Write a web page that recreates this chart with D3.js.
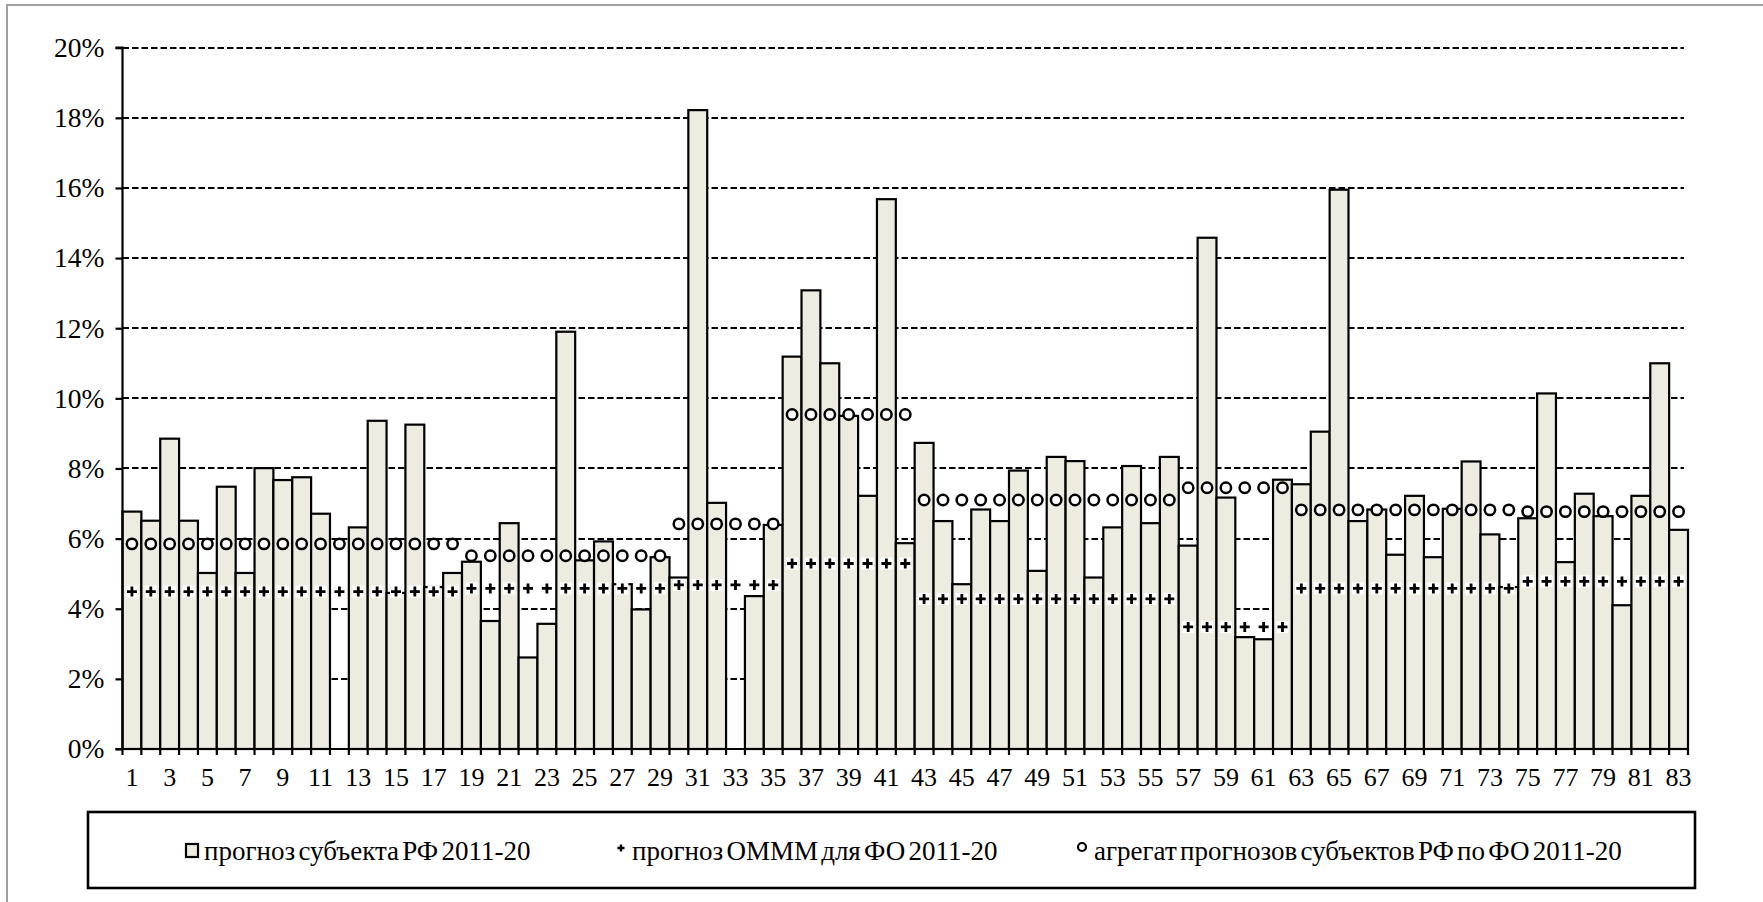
<!DOCTYPE html>
<html>
<head>
<meta charset="utf-8">
<script src="https://cdn.jsdelivr.net/npm/d3@7"></script>
<style>
  html, body { margin: 0; padding: 0; background: #fff; }
  svg { display: block; }
  svg text { font-family: "Liberation Serif", "Times New Roman", serif; fill: #000; }
</style>
</head>
<body>
<svg id="chart" width="1763" height="902"></svg>
<script>
// Regions of the Russian Federation, numbered 1..83
const regions = d3.range(1, 84);

// Regional forecast 2011-20 (share, %); null = no forecast
const regionForecast = [
  6.77, 6.51, 8.85, 6.51, 5.02, 7.48, 5.02, 8.01, 7.67, 7.75,
  6.71, null, 6.32, 9.36, 4.45, 9.25, 4.62, 5.02, 5.34, 3.65,
  6.44, 2.61, 3.57, 11.90, 5.38, 5.92, 4.70, 3.98, 5.47, 4.89,
  18.22, 7.02, null, 4.36, 6.39, 11.19, 13.08, 11.00, 9.50, 7.22,
  15.68, 5.87, 8.73, 6.50, 4.70, 6.83, 6.50, 7.94, 5.08, 8.33,
  8.21, 4.89, 6.32, 8.07, 6.44, 8.33, 5.80, 14.58, 7.17, 3.19,
  3.13, 7.68, 7.55, 9.05, 15.95, 6.50, 6.83, 5.54, 7.22, 5.47,
  6.85, 8.20, 6.12, 4.62, 6.58, 10.14, 5.33, 7.28, 6.64, 4.10,
  7.22, 11.00, 6.25
];

// OMMM forecast for the federal district of each region
const ommmForecast = [
  4.49, 4.49, 4.49, 4.49, 4.49, 4.49, 4.49, 4.49, 4.49, 4.49,
  4.49, 4.49, 4.49, 4.49, 4.49, 4.49, 4.49, 4.49, 4.58, 4.58,
  4.58, 4.58, 4.58, 4.58, 4.58, 4.58, 4.58, 4.58, 4.58, 4.68,
  4.68, 4.68, 4.68, 4.68, 4.68, 5.29, 5.29, 5.29, 5.29, 5.29,
  5.29, 5.29, 4.28, 4.28, 4.28, 4.28, 4.28, 4.28, 4.28, 4.28,
  4.28, 4.28, 4.28, 4.28, 4.28, 4.28, 3.48, 3.48, 3.48, 3.48,
  3.48, 3.48, 4.58, 4.58, 4.58, 4.58, 4.58, 4.58, 4.58, 4.58,
  4.58, 4.58, 4.58, 4.58, 4.78, 4.78, 4.78, 4.78, 4.78, 4.78,
  4.78, 4.78, 4.78
];

// Aggregate of regional forecasts for the federal district of each region
const districtAggregate = [
  5.85, 5.85, 5.85, 5.85, 5.85, 5.85, 5.85, 5.85, 5.85, 5.85,
  5.85, 5.85, 5.85, 5.85, 5.85, 5.85, 5.85, 5.85, 5.51, 5.51,
  5.51, 5.51, 5.51, 5.51, 5.51, 5.51, 5.51, 5.51, 5.51, 6.42,
  6.42, 6.42, 6.42, 6.42, 6.42, 9.54, 9.54, 9.54, 9.54, 9.54,
  9.54, 9.54, 7.10, 7.10, 7.10, 7.10, 7.10, 7.10, 7.10, 7.10,
  7.10, 7.10, 7.10, 7.10, 7.10, 7.10, 7.45, 7.45, 7.45, 7.45,
  7.45, 7.45, 6.82, 6.82, 6.82, 6.82, 6.82, 6.82, 6.82, 6.82,
  6.82, 6.82, 6.82, 6.82, 6.77, 6.77, 6.77, 6.77, 6.77, 6.77,
  6.77, 6.77, 6.77
];

const yTicks = [0, 2, 4, 6, 8, 10, 12, 14, 16, 18, 20];
const xTickLabels = regions.filter(r => r % 2 === 1);

const legendLabels = [
  "прогноз субъекта РФ 2011-20",
  "прогноз ОМММ для ФО 2011-20",
  "агрегат прогнозов субъектов РФ по ФО 2011-20"
];

const BAR_FILL = "#eeece1";
const SERIF = '"Liberation Serif", "Times New Roman", serif';

const svg = d3.select("#chart");

// outer chart frame
svg.append("rect")
  .attr("x", 7).attr("y", 5)
  .attr("width", 1800).attr("height", 1000)
  .attr("fill", "none").attr("stroke", "#a0a0a0").attr("stroke-width", 2);

const x = d3.scaleBand().domain(regions).range([122.5, 1688]).padding(0);
const y = d3.scaleLinear().domain([0, 20]).range([749, 47.7]);

// dashed horizontal gridlines (snapped to whole pixels)
svg.append("g")
  .selectAll("line")
  .data(yTicks.filter(t => t > 0))
  .join("line")
  .attr("x1", x.range()[0]).attr("x2", 1684)
  .attr("y1", d => Math.round(y(d))).attr("y2", d => Math.round(y(d)))
  .attr("stroke", "#000").attr("stroke-width", 2)
  .attr("stroke-dasharray", "6.5,3");

// bars
const barData = regions.map((r, i) => ({ r, v: regionForecast[i] })).filter(d => d.v !== null);
svg.append("g")
  .selectAll("rect")
  .data(barData)
  .join("rect")
  .attr("x", d => x(d.r))
  .attr("width", x.bandwidth())
  .attr("y", d => y(d.v))
  .attr("height", d => y(0) - y(d.v))
  .attr("fill", BAR_FILL)
  .attr("stroke", "#000")
  .attr("stroke-width", 2.2);

// y axis
const yAxis = d3.axisLeft(y)
  .tickValues(yTicks)
  .tickFormat(d => d + "%")
  .tickSize(7)
  .tickPadding(11);
const gy = svg.append("g").attr("transform", `translate(${x.range()[0]},0)`).call(yAxis);
gy.attr("font-family", null).attr("font-size", null);
gy.select(".domain").attr("stroke", "#000").attr("stroke-width", 2.2).attr("d", `M-7,${y(0)}H0V${y(20)}H-7`);
gy.selectAll(".tick line").attr("stroke", "#000").attr("stroke-width", 2.2);
gy.selectAll(".tick text")
  .style("font-family", SERIF)
  .style("font-size", "27.5px").attr("fill", "#000");

// x axis: labels on odd regions, tick marks on band edges
const xAxis = d3.axisBottom(x).tickValues(xTickLabels).tickSize(0).tickPadding(19);
const gx = svg.append("g").attr("transform", `translate(0,${y(0)})`).call(xAxis);
gx.attr("font-family", null).attr("font-size", null);
gx.select(".domain").attr("stroke", "#000").attr("stroke-width", 2.2).attr("d", `M${x.range()[0]},0H${x.range()[1]}`);
gx.selectAll(".tick text")
  .style("font-family", SERIF)
  .style("font-size", "26px").attr("fill", "#000");
gx.append("g")
  .selectAll("line")
  .data(regions.map(r => x(r)).concat([x.range()[1]]))
  .join("line")
  .attr("x1", d => d).attr("x2", d => d)
  .attr("y1", 0).attr("y2", 6)
  .attr("stroke", "#000").attr("stroke-width", 2.2);

// plus marker with a white backing square
function plusMarker(sel, size, sw) {
  const h = size / 2;
  sel.append("rect")
    .attr("x", -h - 1).attr("y", -h - 1)
    .attr("width", size + 2).attr("height", size + 2)
    .attr("fill", "#fff");
  sel.append("path")
    .attr("d", `M${-h},0H${h}M0,${-h}V${h}`)
    .attr("stroke", "#000").attr("stroke-width", sw).attr("fill", "none");
}

// OMMM forecast markers
svg.append("g")
  .selectAll("g")
  .data(regions.map((r, i) => ({ r, v: ommmForecast[i] })))
  .join("g")
  .attr("transform", d => `translate(${x(d.r) + x.bandwidth() / 2},${y(d.v)})`)
  .each(function () { plusMarker(d3.select(this), 10, 2.8); });

// district aggregate markers
svg.append("g")
  .selectAll("circle")
  .data(regions.map((r, i) => ({ r, v: districtAggregate[i] })))
  .join("circle")
  .attr("cx", d => x(d.r) + x.bandwidth() / 2)
  .attr("cy", d => y(d.v))
  .attr("r", 5.2)
  .attr("fill", "#fff")
  .attr("stroke", "#000")
  .attr("stroke-width", 2.5);

// legend
const legend = svg.append("g");
legend.append("rect")
  .attr("x", 88).attr("y", 812)
  .attr("width", 1607).attr("height", 76)
  .attr("fill", "#fff").attr("stroke", "#000").attr("stroke-width", 2.6);

const legendY = 851;
const legendTextX = [204, 632, 1094];

legend.append("rect")
  .attr("x", 186).attr("y", legendY - 7)
  .attr("width", 12).attr("height", 13)
  .attr("fill", BAR_FILL).attr("stroke", "#000").attr("stroke-width", 2.2);

const lp = legend.append("g").attr("transform", `translate(621,${legendY - 3})`);
plusMarker(lp, 7, 2.4);

legend.append("circle")
  .attr("cx", 1082).attr("cy", legendY - 4).attr("r", 4)
  .attr("fill", "#fff").attr("stroke", "#000").attr("stroke-width", 2.2);

legend.selectAll("text.lbl")
  .data(legendLabels)
  .join("text")
  .attr("class", "lbl")
  .attr("x", (d, i) => legendTextX[i])
  .attr("y", legendY + 9)
  .style("font-family", SERIF)
  .style("font-size", "27px")
  .style("word-spacing", "-3.5px")
  .text(d => d);
</script>
</body>
</html>
